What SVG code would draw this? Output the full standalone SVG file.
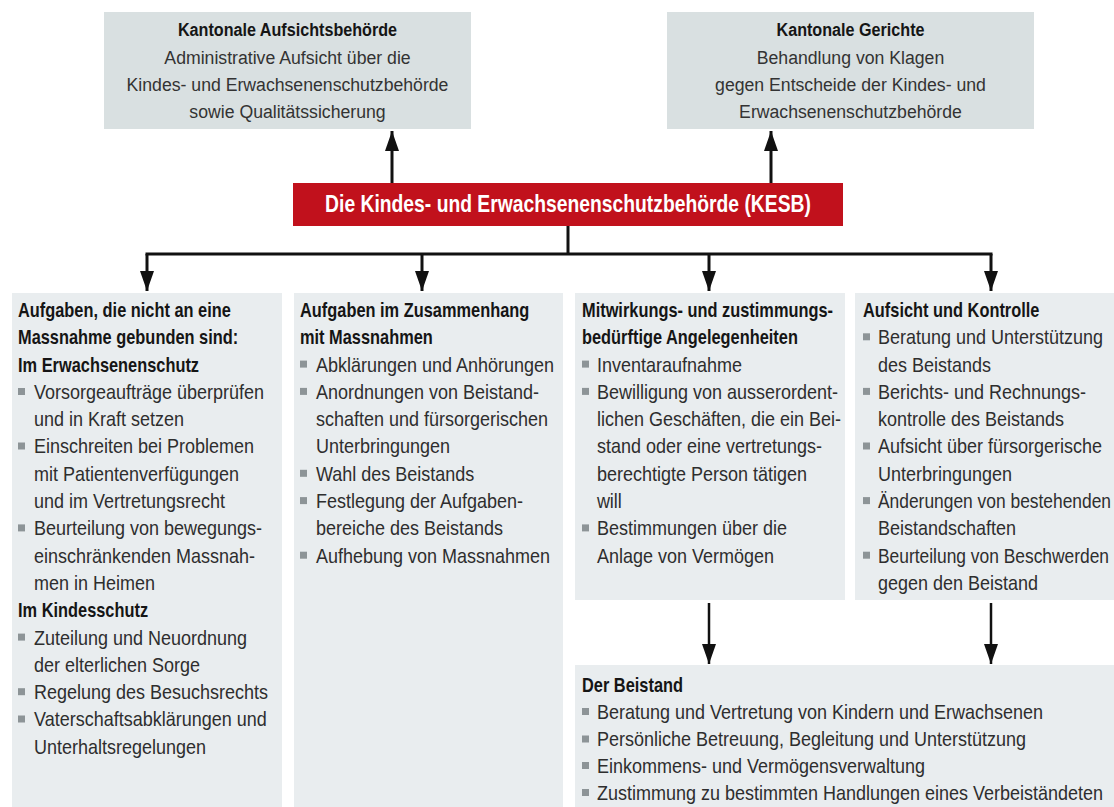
<svg xmlns="http://www.w3.org/2000/svg" width="1114" height="807" viewBox="0 0 1114 807">
<defs>
<style>
.top{fill:#d9e0e1}
.pan{fill:#e9edef}
.red{fill:#c1111c}
text{font-family:"Liberation Sans",Arial,sans-serif;transform-box:fill-box}
.tt{font-size:19px;font-weight:bold;fill:#151515;text-anchor:middle;transform-origin:50% 50%;transform:scaleX(0.85)}
.tb{font-size:19px;fill:#333;text-anchor:middle;transform-origin:50% 50%;transform:scaleX(0.93)}
.kesb{font-size:23px;font-weight:bold;fill:#fff;text-anchor:middle;transform-origin:50% 50%;transform:scaleX(0.84)}
.h{font-size:19.5px;font-weight:bold;fill:#151515;transform-origin:0 0;transform:scaleX(0.84)}
.b{font-size:20px;fill:#2e2e2e;transform-origin:0 0;transform:scaleX(0.9)}
.b.n{transform:scaleX(0.87)}
.bul{fill:#8d9497}
.ln{stroke:#111;stroke-width:3;fill:none}
.ln2{stroke:#111;stroke-width:2.5;fill:none}
</style>
<marker id="ah" viewBox="0 0 20 14" markerUnits="userSpaceOnUse" markerWidth="20" markerHeight="14" refX="20" refY="7" orient="auto">
<path d="M0,0 L20,7 L0,14 Z" fill="#111"/>
</marker>
</defs>
<rect width="1114" height="807" fill="#ffffff"/>

<g id="connectors">
<line class="ln" x1="392" y1="183" x2="392" y2="131" marker-end="url(#ah)"/>
<line class="ln" x1="771" y1="183" x2="771" y2="131" marker-end="url(#ah)"/>
<line class="ln" x1="568" y1="226" x2="568" y2="254"/>
<line class="ln" x1="145.5" y1="254" x2="992.5" y2="254"/>
<line class="ln" x1="147" y1="254" x2="147" y2="291" marker-end="url(#ah)"/>
<line class="ln" x1="422" y1="254" x2="422" y2="291" marker-end="url(#ah)"/>
<line class="ln" x1="709" y1="254" x2="709" y2="291" marker-end="url(#ah)"/>
<line class="ln" x1="991" y1="254" x2="991" y2="291" marker-end="url(#ah)"/>
<line class="ln2" x1="709" y1="603" x2="709" y2="664" marker-end="url(#ah)"/>
<line class="ln2" x1="991" y1="603" x2="991" y2="664" marker-end="url(#ah)"/>
</g>

<g id="aufsicht">
<rect class="top" x="104" y="12" width="367" height="117"/>
<text class="tt" x="287.5" y="36">Kantonale Aufsichtsbehörde</text>
<text class="tb" x="287.5" y="64">Administrative Aufsicht über die</text>
<text class="tb" x="287.5" y="91">Kindes- und Erwachsenenschutzbehörde</text>
<text class="tb" x="287.5" y="118">sowie Qualitätssicherung</text>
</g>

<g id="gerichte">
<rect class="top" x="667" y="12" width="367" height="117"/>
<text class="tt" x="850.5" y="36">Kantonale Gerichte</text>
<text class="tb" x="850.5" y="64">Behandlung von Klagen</text>
<text class="tb" x="850.5" y="91">gegen Entscheide der Kindes- und</text>
<text class="tb" x="850.5" y="118">Erwachsenenschutzbehörde</text>
</g>

<g id="kesb">
<rect class="red" x="293" y="183" width="550" height="43"/>
<text class="kesb" x="568" y="212">Die Kindes- und Erwachsenenschutzbehörde (KESB)</text>
</g>

<g id="aufgaben-ohne-massnahme">
<rect class="pan" x="12" y="293" width="270" height="514"/>
<text class="h" x="18" y="317">Aufgaben, die nicht an eine</text>
<text class="h" x="18" y="344.3">Massnahme gebunden sind:</text>
<text class="h" x="18" y="371.6">Im Erwachsenenschutz</text>
<rect class="bul" x="18" y="388" width="7" height="7"/>
<text class="b" x="34" y="398.9">Vorsorgeaufträge überprüfen</text>
<text class="b" x="34" y="426.2">und in Kraft setzen</text>
<rect class="bul" x="18" y="442.5" width="7" height="7"/>
<text class="b" x="34" y="453.5">Einschreiten bei Problemen</text>
<text class="b" x="34" y="480.8">mit Patientenverfügungen</text>
<text class="b" x="34" y="508.1">und im Vertretungsrecht</text>
<rect class="bul" x="18" y="524.4" width="7" height="7"/>
<text class="b" x="34" y="535.4">Beurteilung von bewegungs-</text>
<text class="b" x="34" y="562.7">einschränkenden Massnah-</text>
<text class="b" x="34" y="590">men in Heimen</text>
<text class="h" x="18" y="617.3">Im Kindesschutz</text>
<rect class="bul" x="18" y="633.6" width="7" height="7"/>
<text class="b" x="34" y="644.6">Zuteilung und Neuordnung</text>
<text class="b" x="34" y="671.9">der elterlichen Sorge</text>
<rect class="bul" x="18" y="688.2" width="7" height="7"/>
<text class="b" x="34" y="699.2">Regelung des Besuchsrechts</text>
<rect class="bul" x="18" y="715.5" width="7" height="7"/>
<text class="b" x="34" y="726.5">Vaterschaftsabklärungen und</text>
<text class="b" x="34" y="753.8">Unterhaltsregelungen</text>
</g>

<g id="aufgaben-massnahmen">
<rect class="pan" x="294" y="293" width="269" height="514"/>
<text class="h" x="300" y="317">Aufgaben im Zusammenhang</text>
<text class="h" x="300" y="344.3">mit Massnahmen</text>
<rect class="bul" x="300" y="360.6" width="7" height="7"/>
<text class="b" x="316" y="371.6">Abklärungen und Anhörungen</text>
<rect class="bul" x="300" y="387.9" width="7" height="7"/>
<text class="b" x="316" y="398.9">Anordnungen von Beistand-</text>
<text class="b" x="316" y="426.2">schaften und fürsorgerischen</text>
<text class="b" x="316" y="453.5">Unterbringungen</text>
<rect class="bul" x="300" y="469.8" width="7" height="7"/>
<text class="b" x="316" y="480.8">Wahl des Beistands</text>
<rect class="bul" x="300" y="497.1" width="7" height="7"/>
<text class="b" x="316" y="508.1">Festlegung der Aufgaben-</text>
<text class="b" x="316" y="535.4">bereiche des Beistands</text>
<rect class="bul" x="300" y="551.7" width="7" height="7"/>
<text class="b" x="316" y="562.7">Aufhebung von Massnahmen</text>
</g>

<g id="mitwirkung">
<rect class="pan" x="575" y="293" width="270" height="307"/>
<text class="h" x="582" y="317">Mitwirkungs- und zustimmungs-</text>
<text class="h" x="582" y="344.3">bedürftige Angelegenheiten</text>
<rect class="bul" x="582" y="360.6" width="7" height="7"/>
<text class="b" x="597" y="371.6">Inventaraufnahme</text>
<rect class="bul" x="582" y="387.9" width="7" height="7"/>
<text class="b" x="597" y="398.9">Bewilligung von ausserordent-</text>
<text class="b" x="597" y="426.2">lichen Geschäften, die ein Bei-</text>
<text class="b" x="597" y="453.5">stand oder eine vertretungs-</text>
<text class="b" x="597" y="480.8">berechtigte Person tätigen</text>
<text class="b" x="597" y="508.1">will</text>
<rect class="bul" x="582" y="524.4" width="7" height="7"/>
<text class="b" x="597" y="535.4">Bestimmungen über die</text>
<text class="b" x="597" y="562.7">Anlage von Vermögen</text>
</g>

<g id="aufsicht-kontrolle">
<rect class="pan" x="855" y="293" width="259" height="307"/>
<text class="h" x="863" y="317">Aufsicht und Kontrolle</text>
<rect class="bul" x="863" y="333.3" width="7" height="7"/>
<text class="b" x="878" y="344.3">Beratung und Unterstützung</text>
<text class="b" x="878" y="371.6">des Beistands</text>
<rect class="bul" x="863" y="387.9" width="7" height="7"/>
<text class="b" x="878" y="398.9">Berichts- und Rechnungs-</text>
<text class="b" x="878" y="426.2">kontrolle des Beistands</text>
<rect class="bul" x="863" y="442.5" width="7" height="7"/>
<text class="b" x="878" y="453.5">Aufsicht über fürsorgerische</text>
<text class="b" x="878" y="480.8">Unterbringungen</text>
<rect class="bul" x="863" y="497.1" width="7" height="7"/>
<text class="b n" x="878" y="508.1">Änderungen von bestehenden</text>
<text class="b" x="878" y="535.4">Beistandschaften</text>
<rect class="bul" x="863" y="551.7" width="7" height="7"/>
<text class="b n" x="878" y="562.7">Beurteilung von Beschwerden</text>
<text class="b" x="878" y="590">gegen den Beistand</text>
</g>

<g id="beistand">
<rect class="pan" x="575" y="665" width="539" height="142"/>
<text class="h" x="582" y="692">Der Beistand</text>
<rect class="bul" x="582" y="708" width="7" height="7"/>
<text class="b" x="597" y="719">Beratung und Vertretung von Kindern und Erwachsenen</text>
<rect class="bul" x="582" y="735.5" width="7" height="7"/>
<text class="b" x="597" y="746.5">Persönliche Betreuung, Begleitung und Unterstützung</text>
<rect class="bul" x="582" y="762" width="7" height="7"/>
<text class="b" x="597" y="773">Einkommens- und Vermögensverwaltung</text>
<rect class="bul" x="582" y="789" width="7" height="7"/>
<text class="b" x="597" y="800">Zustimmung zu bestimmten Handlungen eines Verbeiständeten</text>
</g>
</svg>
